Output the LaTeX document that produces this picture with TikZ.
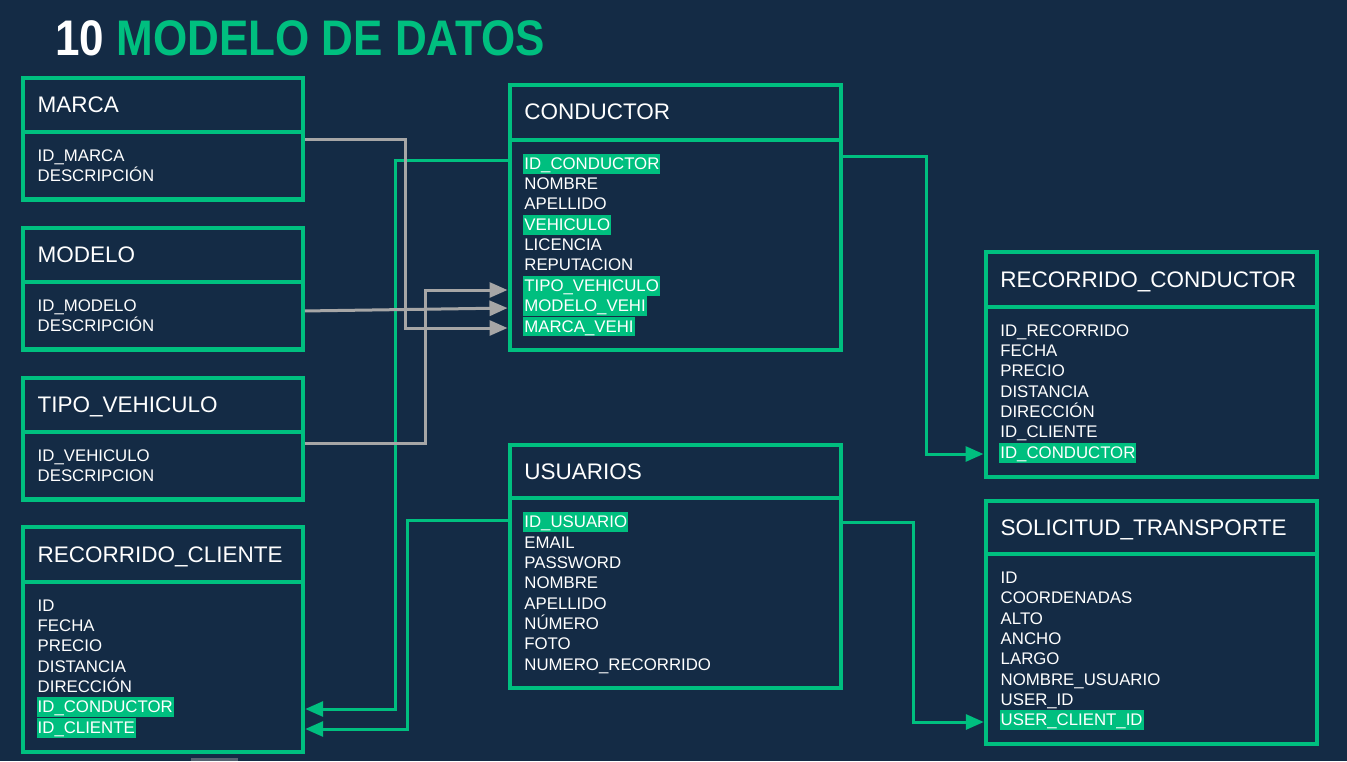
\documentclass[tikz,border=0pt]{standalone}
\usepackage{fontspec}
\usepackage{graphicx}
\setmainfont{Liberation Sans}
\usetikzlibrary{arrows.meta}
\definecolor{bg}{HTML}{142B45}
\definecolor{grn}{HTML}{00BF7F}
\definecolor{gry}{HTML}{A6A6A6}
\newcommand\tablebox[8]{%
  \node[tbl, minimum width={#3pt-#2pt}, minimum height={#6pt-#4pt}] (#1) at (#2,#4) {};
  \draw[grn, line width=4.3pt] (#1.west |- 0,#5) -- (#1.east |- 0,#5);
  \node[hdr] (#1-h) at ({#2+14.5},{#4+34.8}) {#7};
  \foreach \t/\s [count=\i from 0] in {#8} {
    \node[fld, fill=\s] (#1-\i) at ({#2+13.5},{#5+29.5+20.35*\i}) {\t};
  }%
}
\begin{document}
\begin{tikzpicture}[x=1pt,y=-1pt,
  tbl/.style={draw=grn, line width=4.3pt, rectangle, inner sep=0pt, outer sep=0pt, anchor=north west},
  hdr/.style={anchor=base west, text=white, font=\fontsize{22.5}{27}\selectfont, inner sep=0pt},
  fld/.style={anchor=base west, text=white, font=\fontsize{16.8}{20}\selectfont, inner xsep=1pt, inner ysep=1.3pt, text height=14.2pt, text depth=3pt},
  link/.style={line width=3pt, shorten <=2.2pt, shorten >=2.2pt, -{Triangle[length=18pt,width=15pt]}},
  glink/.style={link, draw=grn},
  ylink/.style={link, draw=gry},
]
\fill[bg] (0,0) rectangle (1347,761);
\useasboundingbox (0,0) rectangle (1347,761);
\fill[gry!45!bg] (191,758) rectangle (238,761);

\node[anchor=base west, inner sep=0pt, font=\fontsize{50}{60}\selectfont\bfseries] (title) at (55,55.4)
  {\scalebox{0.88}[1]{\textcolor{white}{10} \textcolor{grn}{MODELO DE DATOS}}};

\tablebox{marca}{23}{302.7}{78}{132}{199.5}{MARCA}{ID\_MARCA/none, DESCRIPCIÓN/none}
\tablebox{modelo}{23}{302.7}{228}{282}{349.5}{MODELO}{ID\_MODELO/none, DESCRIPCIÓN/none}
\tablebox{tipo}{23}{302.7}{378}{432}{499.5}{TIPO\_VEHICULO}{ID\_VEHICULO/none, DESCRIPCION/none}
\tablebox{rcliente}{23}{303}{527.3}{581.7}{751.7}{RECORRIDO\_CLIENTE}{ID/none, FECHA/none, PRECIO/none, DISTANCIA/none, DIRECCIÓN/none, ID\_CONDUCTOR/grn, ID\_CLIENTE/grn}
\tablebox{conductor}{509.7}{841}{85}{139.7}{350.3}{CONDUCTOR}{ID\_CONDUCTOR/grn, NOMBRE/none, APELLIDO/none, VEHICULO/grn, LICENCIA/none, REPUTACION/none, TIPO\_VEHICULO/grn, MODELO\_VEHI/grn, MARCA\_VEHI/grn}
\tablebox{usuarios}{509.7}{841}{444.7}{498.3}{688}{USUARIOS}{ID\_USUARIO/grn, EMAIL/none, PASSWORD/none, NOMBRE/none, APELLIDO/none, NÚMERO/none, FOTO/none, NUMERO\_RECORRIDO/none}
\tablebox{rconductor}{985.7}{1316.7}{252.3}{306.7}{476.7}{RECORRIDO\_CONDUCTOR}{ID\_RECORRIDO/none, FECHA/none, PRECIO/none, DISTANCIA/none, DIRECCIÓN/none, ID\_CLIENTE/none, ID\_CONDUCTOR/grn}
\tablebox{solicitud}{986}{1316.7}{500.8}{554}{744}{SOLICITUD\_TRANSPORTE}{ID/none, COORDENADAS/none, ALTO/none, ANCHO/none, LARGO/none, NOMBRE\_USUARIO/none, USER\_ID/none, USER\_CLIENT\_ID/grn}

% green connectors
\draw[glink] (conductor.west |- 0,160) -| (395,709) -- (rcliente.east |- 0,709);
\draw[glink] (usuarios.west |- 0,520) -| (407,729) -- (rcliente.east |- 0,729);
\draw[glink] (conductor.east |- 0,156) -| (926,454) -- (rconductor.west |- 0,454);
\draw[glink] (usuarios.east |- 0,522) -| (913,722) -- (solicitud.west |- 0,722);
% gray connectors
\draw[ylink] (marca.east |- 0,139) -| (405,328) -- (conductor.west |- 0,328);
\draw[ylink] (modelo.east |- 0,311) -- (conductor.west |- 0,308);
\draw[ylink] (tipo.east |- 0,443) -| (425,290) -- (conductor.west |- 0,290);
\end{tikzpicture}
\end{document}
